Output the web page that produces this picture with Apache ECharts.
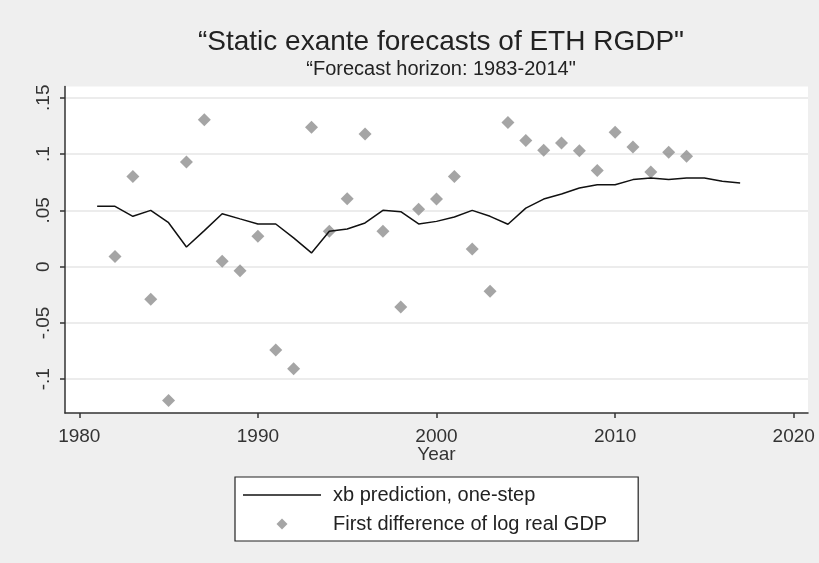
<!DOCTYPE html>
<html>
<head>
<meta charset="utf-8">
<script src="https://cdn.jsdelivr.net/npm/echarts@6/dist/echarts.min.js"></script>
<style>
html,body{margin:0;padding:0;background:#efefef;}
#chart{width:819px;height:563px;}
</style>
</head>
<body>
<div id="chart"></div>
<script>
// ---- data ----
const predYears = [1981,1982,1983,1984,1985,1986,1987,1988,1989,1990,1991,1992,1993,1994,1995,1996,1997,1998,1999,2000,2001,2002,2003,2004,2005,2006,2007,2008,2009,2010,2011,2012,2013,2014,2015,2016,2017];
const predValues = [0.0536,0.0536,0.0447,0.0500,0.0390,0.0175,0.0320,0.0470,0.0424,0.0379,0.0379,0.0255,0.0122,0.0314,0.0335,0.0388,0.0500,0.0488,0.0379,0.0402,0.0441,0.0500,0.0447,0.0376,0.0520,0.0600,0.0645,0.0699,0.0728,0.0728,0.0773,0.0788,0.0773,0.0788,0.0788,0.0758,0.0743];
const actualYears = [1982,1983,1984,1985,1986,1987,1988,1989,1990,1991,1992,1993,1994,1995,1996,1997,1998,1999,2000,2001,2002,2003,2004,2005,2006,2007,2008,2009,2010,2011,2012,2013,2014];
const actualValues = [0.009,0.080,-0.029,-0.119,0.093,0.1305,0.0047,-0.0036,0.027,-0.074,-0.0906,0.1237,0.0314,0.0604,0.1178,0.0314,-0.0358,0.051,0.060,0.080,0.0157,-0.0219,0.128,0.112,0.1033,0.1098,0.103,0.0853,0.1193,0.1063,0.084,0.1015,0.098];
const xTicks = [1980,1990,2000,2010,2020];
const yTicks = [-0.1,-0.05,0,0.05,0.1,0.15];
const yTickLabels = ['-.1','-.05','0','.05','.1','.15'];
const titleText = '\u201CStatic exante forecasts of ETH RGDP"';
const subtitleText = '\u201CForecast horizon: 1983-2014"';
const lineName = 'xb prediction, one-step';
const dotName = 'First difference of log real GDP';

const FONT = '"Liberation Sans", Arial, sans-serif';
const chart = echarts.init(document.getElementById('chart'), null, {renderer:'canvas'});
const yLabelMap = {};
yTicks.forEach((v,i)=>{ yLabelMap[v.toFixed(2)] = yTickLabels[i]; });

chart.setOption({
  backgroundColor: '#efefef',
  animation: false,
  title: [
    {text: titleText, left: 436, top: 23, textAlign: 'center',
     textStyle: {fontFamily: FONT, fontSize: 28, fontWeight: 'normal', color: '#222'}},
    {text: subtitleText, left: 436, top: 54, textAlign: 'center',
     textStyle: {fontFamily: FONT, fontSize: 20, fontWeight: 'normal', color: '#222'}}
  ],
  grid: {left: 65, right: 11, top: 86.5, bottom: 150, show: true, backgroundColor: '#ffffff', borderWidth: 0},
  xAxis: {
    type: 'value', min: 1979.2, max: 2020.8,
    name: 'Year', nameLocation: 'middle', nameGap: 32, nameMoveOverlap: false,
    nameTextStyle: {fontFamily: FONT, fontSize: 19, color: '#333'},
    axisLine: {show: true, onZero: false, lineStyle: {color: '#333', width: 1.5}},
    axisTick: {show: true, length: 5, customValues: xTicks, lineStyle: {color: '#333', width: 1.5}},
    axisLabel: {customValues: xTicks, fontFamily: FONT, fontSize: 19, color: '#333', margin: 14,
      formatter: v => String(v)},
    splitLine: {show: false}
  },
  yAxis: {
    type: 'value', min: -0.13, max: 0.16,
    axisLine: {show: true, onZero: false, lineStyle: {color: '#333', width: 1.5}},
    axisTick: {show: true, length: 5, customValues: yTicks, lineStyle: {color: '#333', width: 1.5}},
    axisLabel: {customValues: yTicks, fontFamily: FONT, fontSize: 19, color: '#333', rotate: 90, margin: 12,
      formatter: v => yLabelMap[Number(v).toFixed(2)] ?? String(v)},
    splitLine: {show: true, lineStyle: {color: '#e6e6e6', width: 1.5}}
  },
  legend: {
    left: 235, top: 477, orient: 'vertical',
    backgroundColor: '#ffffff', borderColor: '#222', borderWidth: 1.2,
    padding: [8, 31, 7, 8], itemWidth: 78, itemHeight: 11, itemGap: 9,
    symbolKeepAspect: true,
    textStyle: {fontFamily: FONT, fontSize: 20, color: '#222', padding: [0,0,0,7]},
    data: [
      {name: lineName, icon: 'path://M0,0 L78,0 L78,1.5 L0,1.5 Z', itemStyle: {color: '#111'}},
      {name: dotName, icon: 'path://M5,0 L10,5 L5,10 L0,5 Z', itemStyle: {color: '#8f8f8f'}}
    ]
  },
  series: [
    {name: lineName, type: 'line', symbol: 'none',
     data: predYears.map((y,i)=>[y, predValues[i]]),
     lineStyle: {color: '#111', width: 1.5}, itemStyle: {color: '#111'}, z: 3},
    {name: dotName, type: 'scatter', symbol: 'diamond', symbolSize: 13,
     data: actualYears.map((y,i)=>[y, actualValues[i]]),
     itemStyle: {color: '#8f8f8f'}, z: 2}
  ]
});
</script>
</body>
</html>
